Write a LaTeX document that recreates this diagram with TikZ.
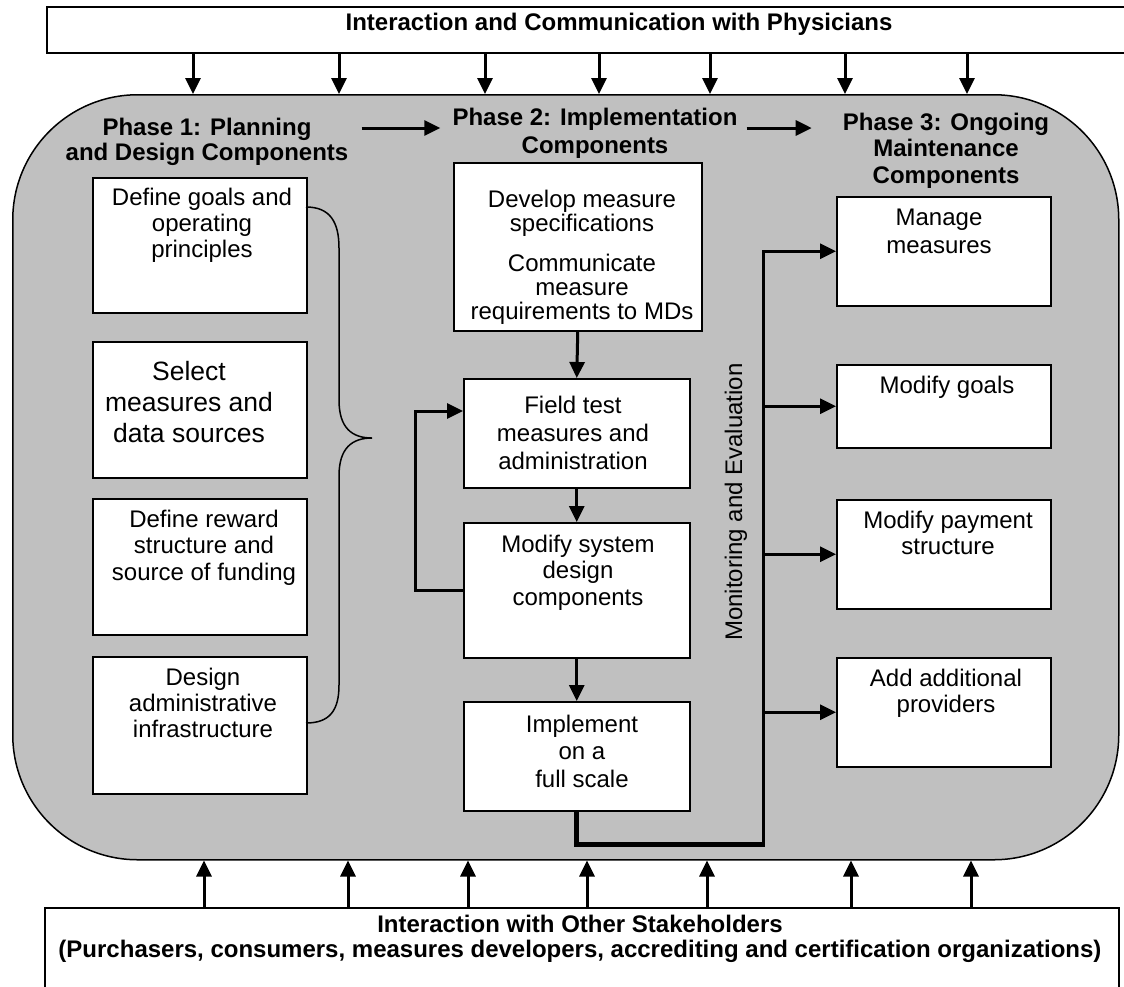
\documentclass[tikz,border=0pt]{standalone}
\usepackage{fontspec}
\setmainfont{Liberation Sans}
\usetikzlibrary{arrows.meta,calc}
\definecolor{Panel}{HTML}{C0C0C0}

\begin{document}
\begin{tikzpicture}[x=1pt,y=-1pt,
    box/.style={draw,line width=1.5pt,fill=white,anchor=north west,inner sep=0pt},
    txt/.style={align=center,anchor=base,inner sep=0pt,font=\fontsize{24}{#1}\selectfont},
    txt/.default=26.5,
    head/.style={txt,font=\bfseries\fontsize{24}{#1}\selectfont},
    head/.default=26,
    flow/.style={line width=3pt,-{Triangle[length=16pt,width=15pt]}}]
  \useasboundingbox (0,0) rectangle (1124,986);

  \node[draw,line width=1.5pt,fill=Panel,rounded corners=125pt,anchor=north west,
        minimum width=1106pt,minimum height=765pt] (panel) at (12,94) {};
  \node[box,minimum width=1090pt,minimum height=46pt] (phys) at (46,6) {};
  \node[head] (physt) at (619,30) {Interaction and Communication with Physicians};
  \node[box,minimum width=1074pt,minimum height=90pt] (stake) at (44,907) {};
  \node[head=25] (staket) at (580,957) {Interaction with Other Stakeholders\\(Purchasers, consumers, measures developers, accrediting and certification organizations)};

  \foreach \x in {193,339,485,599,710,845,967}
    \draw[flow] (\x,0 |- phys.south) -- (\x,0 |- panel.north);
  \foreach \x in {204,348,468,587,707,851,971}
    \draw[flow] (\x,0 |- stake.north) -- (\x,0 |- panel.south);

  \node[head=25.7] (ph1) at (207,160.7) {Phase 1: Planning\\and Design Components};
  \node[head=28] (ph2) at (595,153) {Phase 2: Implementation\\Components};
  \node[head=26.5] (ph3) at (946,183) {Phase 3: Ongoing\\Maintenance\\Components};
  \draw[flow,shorten <=13pt,shorten >=12pt] (ph1.east |- 0,128) -- (ph2.west |- 0,128);
  \draw[flow,shorten <=9pt,shorten >=31pt] (ph2.east |- 0,128) -- (ph3.west |- 0,128);

  \node[box,minimum width=214pt,minimum height=135pt] (goals) at (92,177) {};
  \node[box,minimum width=214pt,minimum height=136pt] (select) at (92,341) {};
  \node[box,minimum width=214pt,minimum height=136pt] (reward) at (92,498) {};
  \node[box,minimum width=214pt,minimum height=137pt] (design) at (92,656) {};
  \node[txt=26] (goalst) at (202,257) {Define goals and\\operating\\principles};
  \node[txt,font=\fontsize{26.5}{31}\selectfont] (selectt) at (189,442) {Select\\measures and\\data sources};
  \node[txt] (rewardt) at (204,580) {Define reward\\structure and\\source of funding};
  \node[txt=26] (designt) at (203,737) {Design\\administrative\\infrastructure};
  \draw[line width=1.5pt] (306,207) .. controls (330,207) and (339,222) .. (339,248)
    -- (339,400) .. controls (339,428) and (352,438) .. (372,438)
    .. controls (352,438) and (339,448) .. (339,476)
    -- (339,685) .. controls (339,710) and (330,723) .. (306,723);

  \node[box,minimum width=248pt,minimum height=168pt] (develop) at (453,162) {};
  \node[box,minimum width=226pt,minimum height=109pt] (field) at (463,378) {};
  \node[box,minimum width=226pt,minimum height=135pt] (modsys) at (463,522) {};
  \node[box,minimum width=226pt,minimum height=109pt] (impl) at (463,701) {};
  \node[txt=24] (developt) at (582,319) {Develop measure\\specifications\\[16pt]Communicate\\measure\\requirements to MDs};
  \node[txt=28] (fieldt) at (573,469) {Field test\\measures and\\administration};
  \node[txt] (modsyst) at (578,605) {Modify system\\design\\components};
  \node[txt=27.5] (implt) at (582,787) {Implement\\on a\\full scale};
  \draw[flow] (develop.south) -- (field.north);
  \draw[flow] (field.south) -- (modsys.north);
  \draw[flow] (modsys.south) -- (impl.north);
  \draw[flow] (modsys.west) -- ++(-48,0) |- ([yshift=-33pt]field.north west);

  \node[box,minimum width=214pt,minimum height=109pt] (manage) at (836,196) {};
  \node[box,minimum width=214pt,minimum height=83pt] (mgoals) at (836,364) {};
  \node[box,minimum width=214pt,minimum height=109pt] (payment) at (836,499) {};
  \node[box,minimum width=214pt,minimum height=109pt] (addprov) at (836,657) {};
  \node[txt=28] (managet) at (939,253) {Manage\\measures};
  \node[txt] (mgoalst) at (947,393) {Modify goals};
  \node[txt=26] (paymentt) at (948,554) {Modify payment\\structure};
  \node[txt=26] (addprovt) at (946,712) {Add additional\\providers};

  \coordinate (mbot) at (763,844);
  \node[txt,rotate=90] (monlbl) at (742,502) {Monitoring and Evaluation};
  \draw[line width=5pt] (impl.south) |- ([xshift=1.75pt]mbot);
  \draw[flow] (mbot) |- (manage.west);
  \foreach \n in {mgoals,payment,addprov}
    \draw[flow] (mbot |- \n.west) -- (\n.west);
\end{tikzpicture}
\end{document}
